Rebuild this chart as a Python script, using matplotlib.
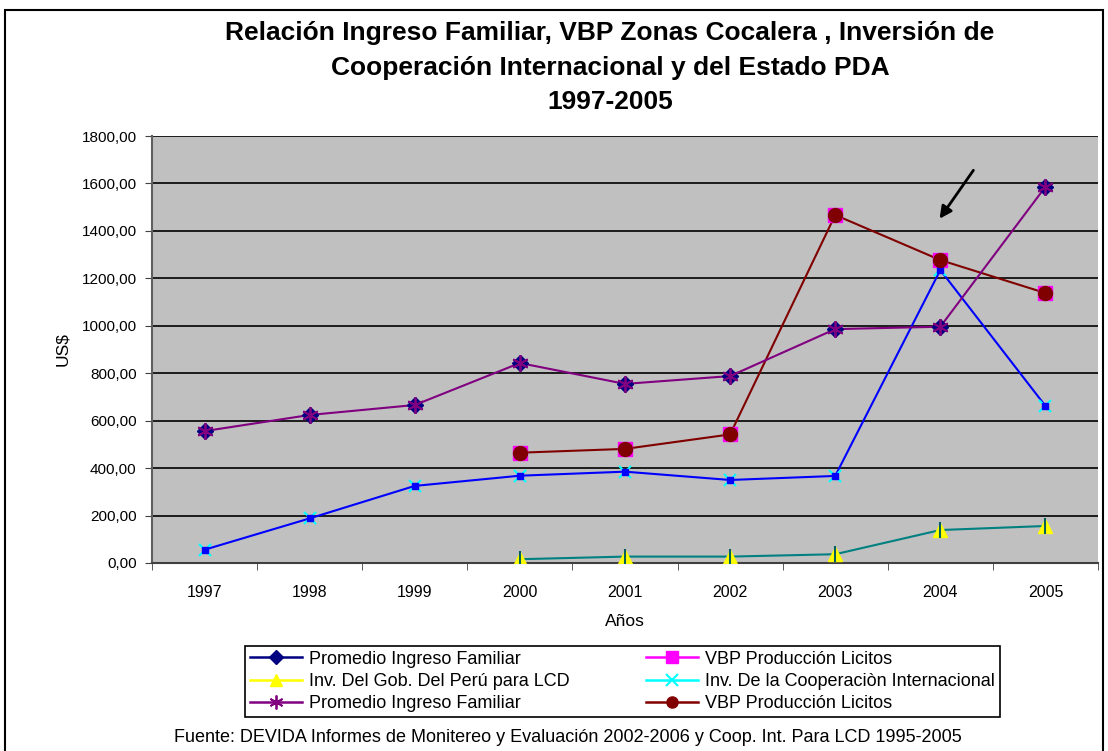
import numpy as np
import matplotlib
matplotlib.use("Agg")
import matplotlib.pyplot as plt
from matplotlib.lines import Line2D
from matplotlib.patches import Rectangle, FancyArrowPatch

plt.rcParams['font.family'] = ['Liberation Sans', 'DejaVu Sans']

years = ['1997', '1998', '1999', '2000', '2001', '2002', '2003', '2004', '2005']
ingreso = [556, 624, 666, 843, 755, 788, 986, 996, 1586]
vbp = [np.nan, np.nan, np.nan, 465, 481, 542, 1467, 1277, 1138]
inv_gob = [np.nan, np.nan, np.nan, 16, 27, 27, 37, 139, 156]
inv_coop = [56, 188, 325, 368, 385, 350, 367, 1235, 662]
yticks = [0, 200, 400, 600, 800, 1000, 1200, 1400, 1600, 1800]
ytick_labels = ['0,00', '200,00', '400,00', '600,00', '800,00', '1000,00',
                '1200,00', '1400,00', '1600,00', '1800,00']
legend_labels = ['Promedio Ingreso Familiar', 'VBP Producción Licitos',
                 'Inv. Del Gob. Del Perú para LCD', 'Inv. De la Cooperaciòn Internacional',
                 'Promedio Ingreso Familiar', 'VBP Producción Licitos']

W, H = 1108, 751
fig = plt.figure(figsize=(W / 100, H / 100), dpi=100)
fig.patch.set_facecolor('white')

ax = fig.add_axes([152 / W, 1 - 563 / H, (1098 - 152) / W, (563 - 136) / H])
ax.set_facecolor('#C0C0C0')
x = np.arange(len(years))

ax.set_ylim(0, 1800)
ax.set_xlim(-0.5, len(years) - 0.5)
ax.set_yticks(yticks)
ax.set_yticklabels(ytick_labels, fontsize=11)
ax.yaxis.grid(True, color='black', linewidth=1.2)
ax.set_axisbelow(True)
ax.set_xticks(x)
ax.set_xticklabels(years, fontsize=11.5)
ax.set_xticks(np.arange(-0.5, len(years), 1), minor=True)
ax.tick_params(axis='x', which='major', length=0, pad=16)
ax.tick_params(axis='x', which='minor', length=5, direction='out', color='#404040')
ax.tick_params(axis='y', length=5, direction='out', color='#404040', pad=6)
for s in ['top', 'right']:
    ax.spines[s].set_visible(False)
ax.spines['left'].set_color('#606060')
ax.spines['left'].set_linewidth(1.5)
ax.spines['bottom'].set_color('#404040')
ax.spines['bottom'].set_linewidth(1.5)

lw = 1.5
ax.plot(x, inv_gob, color='#008080', lw=lw, zorder=3)
ax.plot(x, inv_gob, ls='none', marker='^', ms=10, mfc='#FFFF00', mec='#FFFF00', zorder=4)
ax.plot(x, inv_gob, ls='none', marker='|', ms=11, mec='#006060', mew=1.5, zorder=5)

ax.plot(x, inv_coop, color='#0000FF', lw=lw, zorder=3)
ax.plot(x, inv_coop, ls='none', marker='x', ms=9, mec='#00FFFF', mew=1.5, zorder=4)
ax.plot(x, inv_coop, ls='none', marker='s', ms=4, mfc='#0000FF', mec='#0000FF', zorder=5)

ax.plot(x, vbp, color='#800000', lw=lw, zorder=3)
ax.plot(x, vbp, ls='none', marker='s', ms=10, mfc='#FF00FF', mec='#FF00FF', zorder=4)
ax.plot(x, vbp, ls='none', marker='o', ms=10, mfc='#800000', mec='#800000', zorder=5)

ax.plot(x, ingreso, color='#800080', lw=lw, zorder=3)
ax.plot(x, ingreso, ls='none', marker='D', ms=8, mfc='#000080', mec='#000080', zorder=4)
ax.plot(x, ingreso, ls='none', marker=(6, 2, 0), ms=12, mec='#800080', mew=1.3, zorder=5)

ax.set_xlabel('Años', fontsize=12.5, labelpad=10)
ax.set_ylabel('US$', fontsize=12.5, labelpad=8)

arrow = FancyArrowPatch((975 / W, 1 - 168 / H), (938 / W, 1 - 221 / H),
                        transform=fig.transFigure, arrowstyle='-|>', mutation_scale=18,
                        color='black', lw=2)
fig.patches.append(arrow)

title_kw = dict(ha='center', va='center', fontsize=19, fontweight='bold')
fig.text(610 / W, 1 - 33 / H, 'Relación Ingreso Familiar, VBP Zonas Cocalera , Inversión de', **title_kw)
fig.text(610 / W, 1 - 68 / H, 'Cooperación Internacional y del Estado PDA', **title_kw)
fig.text(610 / W, 1 - 102 / H, '1997-2005', **title_kw)

handles = [
    Line2D([], [], color='#000080', marker='D', ms=7, mfc='#000080', mec='#000080', lw=1.8),
    Line2D([], [], color='#FF00FF', marker='s', ms=8, mfc='#FF00FF', mec='#FF00FF', lw=1.8),
    Line2D([], [], color='#FFFF00', marker='^', ms=9, mfc='#FFFF00', mec='#FFFF00', lw=1.8),
    Line2D([], [], color='#00FFFF', marker='x', ms=9, mec='#00FFFF', mew=1.5, lw=1.8),
    Line2D([], [], color='#800080', marker=(6, 2, 0), ms=10, mec='#800080', mew=1.3, lw=1.8),
    Line2D([], [], color='#800000', marker='o', ms=8, mfc='#800000', mec='#800000', lw=1.8),
]
order = [0, 2, 4, 1, 3, 5]
leg = fig.legend([handles[i] for i in order], [legend_labels[i] for i in order],
                 ncol=2, loc='upper left',
                 bbox_to_anchor=(245 / W, 1 - 646 / H), fontsize=13,
                 frameon=True, fancybox=False, edgecolor='black', framealpha=1,
                 handlelength=2.9, handletextpad=0.4, columnspacing=4.2,
                 labelspacing=0.3, borderpad=0.25, borderaxespad=0)
leg.get_frame().set_linewidth(1.2)

fig.text(568 / W, 1 - 738 / H,
         'Fuente: DEVIDA Informes de Monitereo y Evaluación 2002-2006 y Coop. Int. Para LCD 1995-2005',
         ha='center', va='center', fontsize=13)

fig.patches.append(Rectangle((5 / W, -0.02), (1103 - 5) / W, (0.02 + 1 - 10 / H),
                             transform=fig.transFigure, fill=False, edgecolor='black',
                             lw=1.5))

fig.savefig('out.png', dpi=100)
